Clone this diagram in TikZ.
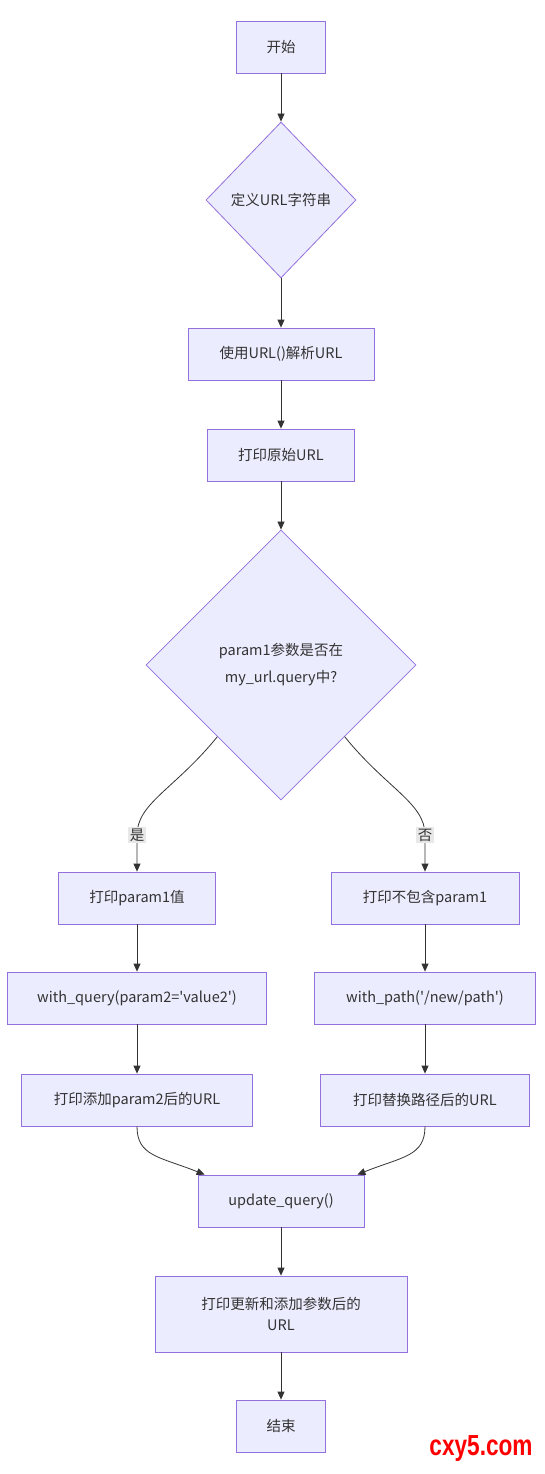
\documentclass[tikz,border=0pt]{standalone}
\usepackage{fontspec}
\setmainfont{Noto Sans CJK SC}
\newfontfamily\markfont{Liberation Sans}
\usetikzlibrary{shapes.geometric,arrows.meta}
\definecolor{boxfill}{HTML}{ECECFF}
\definecolor{boxline}{HTML}{9370DB}
\definecolor{lineclr}{HTML}{333333}
\definecolor{lblfill}{HTML}{E8E8E8}
\tikzset{
	box/.style={draw=boxline, fill=boxfill, line width=0.8pt, minimum height=52pt, inner sep=0pt, align=center, font=\fontsize{14.5}{21}\selectfont, text=lineclr},
	choice/.style={diamond, aspect=1, draw=boxline, fill=boxfill, line width=0.8pt, inner sep=0pt, align=center, font=\fontsize{14.5}{27}\selectfont, text=lineclr},
	arr/.style={draw=lineclr, line width=0.8pt, -{Triangle[length=8pt,width=7pt]}},
	lbl/.style={fill=lblfill, inner sep=1.5pt, font=\fontsize{14.5}{18}\selectfont, text=lineclr}
}
\newcommand{\q}{\textquotesingle}
\begin{document}
\begin{tikzpicture}[x=1pt,y=-1pt]
	\useasboundingbox (0,0) rectangle (544,1474);
	% main column
	\node[box, minimum width=89pt] (start) at (281,47){开始};
	\node[choice, minimum width=150pt, minimum height=156pt] (def) at (281,200){定义URL字符串};
	\node[box, minimum width=186pt] (parse) at (281,354){使用URL()解析URL};
	\node[box, minimum width=147pt] (orig) at (281,455){打印原始URL};
	\node[choice, minimum width=270pt, minimum height=270pt] (check) at (281,665){param1参数是否在\\my\_url.query中?};
	% left branch
	\node[box, minimum width=157pt] (val) at (137,898){打印param1值};
	\node[box, minimum width=259pt] (wquery) at (137,998){with\_query(param2=\q value2\q)};
	\node[box, minimum width=231pt] (added) at (137,1100){打印添加param2后的URL};
	% right branch
	\node[box, minimum width=188pt] (noval) at (425,898){打印不包含param1};
	\node[box, minimum width=221pt] (wpath) at (425,998){with\_path(\q/new/path\q)};
	\node[box, minimum width=209pt] (repl) at (425,1100){打印替换路径后的URL};
	% merge
	\node[box, minimum width=166pt] (upd) at (281,1201){update\_query()};
	\node[box, minimum width=252pt, minimum height=76pt] (final) at (281,1314){打印更新和添加参数后的\\URL};
	\node[box, minimum width=89pt] (stop) at (281,1426){结束};
	\coordinate (yes) at (137,835);
	\coordinate (no) at (425,835);
	% edges
	\draw[arr] (start) -- (def);
	\draw[arr] (def) -- (parse);
	\draw[arr] (parse) -- (orig);
	\draw[arr] (orig) -- (check);
	\draw[arr] ([shift={(4,4)}]check.south west) .. controls +(-42,52) and +(0,-32) .. (yes) -- (val.north);
	\draw[arr] ([shift={(-4,4)}]check.south east) .. controls +(42,52) and +(0,-32) .. (no) -- (noval.north);
	\draw[arr] (val) -- (wquery);
	\draw[arr] (wquery) -- (added);
	\draw[arr] (noval) -- (wpath);
	\draw[arr] (wpath) -- (repl);
	\draw[arr] (added.south) .. controls +(0,30) and +(-45,-18) .. ([xshift=7pt]upd.north west);
	\draw[arr] (repl.south) .. controls +(0,30) and +(45,-18) .. ([xshift=-7pt]upd.north east);
	\draw[arr] (upd) -- (final);
	\draw[arr] (final) -- (stop);
	\node[lbl] (yeslbl) at (yes){是};
	\node[lbl] (nolbl) at (no){否};
	\node[text=red, font=\markfont\bfseries\fontsize{29}{29}\selectfont, xscale=0.78, inner sep=0pt] (mark) at (481,1449){cxy5.com};
\end{tikzpicture}
\end{document}
